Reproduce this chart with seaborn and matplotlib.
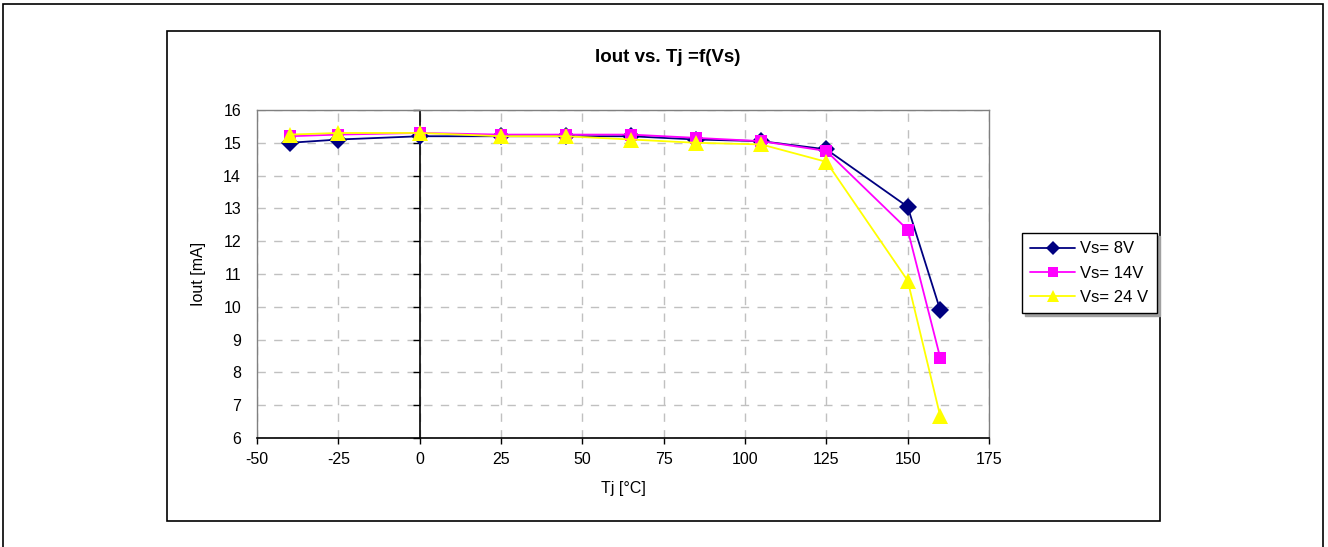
import numpy as np
import pandas as pd
import seaborn as sns
import matplotlib.pyplot as plt
from matplotlib.patches import Rectangle
from matplotlib.lines import Line2D

# data
tj = [-40, -25, 0, 25, 45, 65, 85, 105, 125, 150, 160]
vs8 = [15.0, 15.1, 15.2, 15.2, 15.2, 15.2, 15.1, 15.05, 14.8, 13.05, 9.9]
vs14 = [15.2, 15.25, 15.3, 15.25, 15.25, 15.25, 15.15, 15.05, 14.75, 12.35, 8.45]
vs24 = [15.25, 15.3, 15.3, 15.2, 15.2, 15.1, 15.0, 14.95, 14.42, 10.8, 6.67]
series_names = ['Vs= 8V', 'Vs= 14V', 'Vs= 24 V']
colors = ['#000080', '#FF00FF', '#FFFF00']
markers = ['D', 's', '^']
xticks = [-50, -25, 0, 25, 50, 75, 100, 125, 150, 175]
yticks = [6, 7, 8, 9, 10, 11, 12, 13, 14, 15, 16]

df = pd.DataFrame({
    'Tj': tj * 3,
    'Iout': vs8 + vs14 + vs24,
    'Vs': [series_names[0]] * len(tj) + [series_names[1]] * len(tj) + [series_names[2]] * len(tj),
})

sns.set_style('white')
plt.rcParams['font.family'] = ['Liberation Sans', 'DejaVu Sans']
plt.rcParams['axes.unicode_minus'] = False
plt.rcParams['text.color'] = 'black'
plt.rcParams['axes.labelcolor'] = 'black'
plt.rcParams['xtick.color'] = 'black'
plt.rcParams['ytick.color'] = 'black'

W, H = 1328, 547
fig = plt.figure(figsize=(W / 100, H / 100), dpi=100)
ax = fig.add_axes([257 / W, 1 - 438 / H, (989 - 257) / W, (438 - 110) / H])

# chart borders
fig.patches.append(Rectangle((3 / W, -0.05), (1323 - 3) / W, 1 - 4 / H + 0.05,
                             transform=fig.transFigure, fill=False, ec='black', lw=1.2))
fig.patches.append(Rectangle((167 / W, 1 - 521 / H), (1160 - 167) / W, (521 - 31) / H,
                             transform=fig.transFigure, fill=False, ec='black', lw=1.2))

sns.lineplot(data=df, x='Tj', y='Iout', hue='Vs', style='Vs', palette=colors,
             markers=markers, dashes=False, markersize=9, markeredgewidth=0,
             linewidth=1.3, legend=False, ax=ax)
# triangles a bit bigger like the original
for line, m in zip(ax.lines, markers):
    if m == '^':
        line.set_markersize(11)

ax.set_xlim(-50, 175)
ax.set_ylim(6, 16)
ax.set_xticks(xticks)
ax.set_yticks(yticks)
ax.grid(True, color='#c0c0c0', linestyle=(0, (6, 6)), linewidth=1)
ax.set_axisbelow(True)

for s in ['top', 'right', 'left']:
    ax.spines[s].set_color('#808080')
    ax.spines[s].set_linewidth(1)
ax.spines['bottom'].set_color('black')
ax.spines['bottom'].set_linewidth(1.2)

# vertical axis line crossing at Tj = 0
ax.axvline(0, color='black', lw=1.2, zorder=1.5)
ax.plot(np.zeros(len(yticks)), yticks, ls='none', marker=0, ms=5,
        mew=1, color='black', zorder=1.5, clip_on=False)

ax.tick_params(axis='x', bottom=True, direction='out', length=4, width=1,
               color='black', labelsize=11.5, pad=6)
ax.tick_params(axis='y', left=False, labelsize=11.5, pad=8)

ax.set_xlabel('Tj [°C]', fontsize=11.5, labelpad=10)
ax.set_ylabel('Iout [mA]', fontsize=11.5, labelpad=12)

fig.text(668 / W, 1 - 57 / H, 'Iout vs. Tj =f(Vs)', ha='center', va='center',
         fontsize=13.5, fontweight='bold')

handles = [Line2D([0], [0], color=c, marker=m, lw=1.3,
                  markersize=7 if m != '^' else 9, markeredgewidth=0)
           for c, m in zip(colors, markers)]
leg = fig.legend(handles, series_names, loc='upper left',
                 bbox_to_anchor=(1022 / W, 1 - 233 / H), fontsize=12,
                 frameon=True, fancybox=False,
                 shadow={'color': '#a0a0a0', 'alpha': 1, 'ox': 2, 'oy': -2},
                 borderpad=0.5, labelspacing=0.55, handlelength=2.7,
                 handletextpad=0.3, borderaxespad=0)
leg.get_frame().set_edgecolor('black')
leg.get_frame().set_linewidth(1)

fig.savefig('out.png', dpi=100)
